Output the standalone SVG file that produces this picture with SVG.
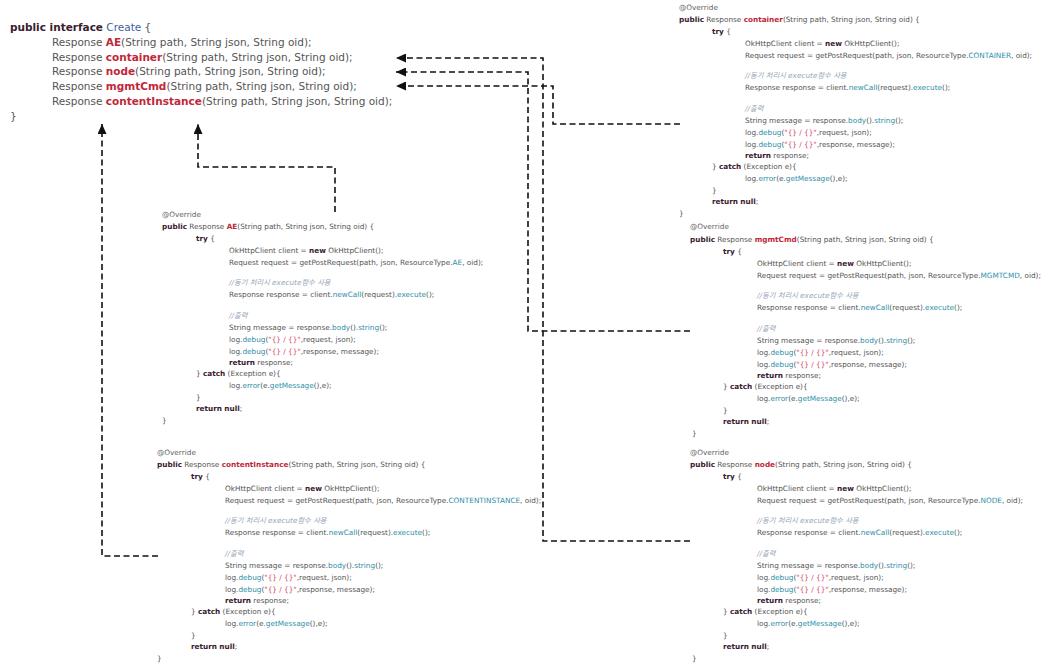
<svg xmlns="http://www.w3.org/2000/svg" width="1058" height="663" viewBox="0 0 1058 663">
<style>
.c { font-family: "DejaVu Sans", "Noto Sans CJK KR", sans-serif; font-size: 7.3px; fill: #555; }
.i { font-size: 10.5px; fill: #555; }
.k { font-weight: bold; fill: #3a2030; }
.m { font-weight: bold; fill: #c0283a; }
.f { fill: #2f8fa8; }
.s { fill: #d24a6a; }
.cm { font-style: italic; fill: #97a6b6; }
.an { fill: #666; }
.ty { fill: #3d5fa0; }
.conn path { fill: none; stroke: #111; stroke-width: 1.6; stroke-dasharray: 6 3.5; }
</style>
<defs>
<marker id="arr" markerUnits="userSpaceOnUse" markerWidth="10" markerHeight="9" viewBox="0 0 10 9" refX="10" refY="4.5" orient="auto">
<path d="M0,0 L10,4.5 L0,9 Z" fill="#111"/>
</marker>
</defs>
<rect width="1058" height="663" fill="#fff"/>

<g id="interface-create">
<text class="c i" x="10" y="31"><tspan class="k">public interface</tspan> <tspan class="ty">Create</tspan> {</text>
<text class="c i" x="52" y="46">Response <tspan class="m">AE</tspan>(String path, String json, String oid);</text>
<text class="c i" x="52" y="61">Response <tspan class="m">container</tspan>(String path, String json, String oid);</text>
<text class="c i" x="52" y="75">Response <tspan class="m">node</tspan>(String path, String json, String oid);</text>
<text class="c i" x="52" y="90">Response <tspan class="m">mgmtCmd</tspan>(String path, String json, String oid);</text>
<text class="c i" x="52" y="105">Response <tspan class="m">contentInstance</tspan>(String path, String json, String oid);</text>
<text class="c i" x="10" y="120">}</text>
</g>

<g id="impl-AE" transform="translate(162,216.5)">
<text class="c an" x="0" y="0">@Override</text>
<text class="c" x="0" y="12"><tspan class="k">public</tspan> Response <tspan class="m">AE</tspan>(String path, String json, String oid) {</text>
<text class="c" x="34" y="24"><tspan class="k">try</tspan> {</text>
<text class="c" x="67" y="36">OkHttpClient client = <tspan class="k">new</tspan> OkHttpClient();</text>
<text class="c" x="67" y="48">Request request = getPostRequest(path, json, ResourceType.<tspan class="f">AE</tspan>, oid);</text>
<text class="c cm" x="67" y="68">//동기 처리시 execute함수 사용</text>
<text class="c" x="67" y="80">Response response = client.<tspan class="f">newCall</tspan>(request).<tspan class="f">execute</tspan>();</text>
<text class="c cm" x="67" y="101">//출력</text>
<text class="c" x="67" y="113">String message = response.<tspan class="f">body</tspan>().<tspan class="f">string</tspan>();</text>
<text class="c" x="67" y="125">log.<tspan class="f">debug</tspan>(<tspan class="s">"{} / {}"</tspan>,request, json);</text>
<text class="c" x="67" y="137">log.<tspan class="f">debug</tspan>(<tspan class="s">"{} / {}"</tspan>,response, message);</text>
<text class="c" x="67" y="148"><tspan class="k">return</tspan> response;</text>
<text class="c" x="34" y="159">} <tspan class="k">catch</tspan> (Exception e){</text>
<text class="c" x="67" y="171">log.<tspan class="f">error</tspan>(e.<tspan class="f">getMessage</tspan>(),e);</text>
<text class="c" x="34" y="183">}</text>
<text class="c" x="34" y="194"><tspan class="k">return</tspan> <tspan class="k">null</tspan>;</text>
<text class="c" x="0" y="206">}</text>
</g>

<g id="impl-contentInstance" transform="translate(157,454.5)">
<text class="c an" x="0" y="0">@Override</text>
<text class="c" x="0" y="12"><tspan class="k">public</tspan> Response <tspan class="m">contentInstance</tspan>(String path, String json, String oid) {</text>
<text class="c" x="34" y="24"><tspan class="k">try</tspan> {</text>
<text class="c" x="68" y="36">OkHttpClient client = <tspan class="k">new</tspan> OkHttpClient();</text>
<text class="c" x="68" y="48">Request request = getPostRequest(path, json, ResourceType.<tspan class="f">CONTENTINSTANCE</tspan>, oid);</text>
<text class="c cm" x="68" y="68">//동기 처리시 execute함수 사용</text>
<text class="c" x="68" y="80">Response response = client.<tspan class="f">newCall</tspan>(request).<tspan class="f">execute</tspan>();</text>
<text class="c cm" x="68" y="101">//출력</text>
<text class="c" x="68" y="113">String message = response.<tspan class="f">body</tspan>().<tspan class="f">string</tspan>();</text>
<text class="c" x="68" y="125">log.<tspan class="f">debug</tspan>(<tspan class="s">"{} / {}"</tspan>,request, json);</text>
<text class="c" x="68" y="137">log.<tspan class="f">debug</tspan>(<tspan class="s">"{} / {}"</tspan>,response, message);</text>
<text class="c" x="68" y="148"><tspan class="k">return</tspan> response;</text>
<text class="c" x="34" y="159">} <tspan class="k">catch</tspan> (Exception e){</text>
<text class="c" x="68" y="171">log.<tspan class="f">error</tspan>(e.<tspan class="f">getMessage</tspan>(),e);</text>
<text class="c" x="34" y="183">}</text>
<text class="c" x="34" y="194"><tspan class="k">return</tspan> <tspan class="k">null</tspan>;</text>
<text class="c" x="0" y="206">}</text>
</g>

<g id="impl-container" transform="translate(679,9.5)">
<text class="c an" x="0" y="0">@Override</text>
<text class="c" x="0" y="12"><tspan class="k">public</tspan> Response <tspan class="m">container</tspan>(String path, String json, String oid) {</text>
<text class="c" x="33" y="24"><tspan class="k">try</tspan> {</text>
<text class="c" x="66" y="36">OkHttpClient client = <tspan class="k">new</tspan> OkHttpClient();</text>
<text class="c" x="66" y="48">Request request = getPostRequest(path, json, ResourceType.<tspan class="f">CONTAINER</tspan>, oid);</text>
<text class="c cm" x="66" y="68">//동기 처리시 execute함수 사용</text>
<text class="c" x="66" y="80">Response response = client.<tspan class="f">newCall</tspan>(request).<tspan class="f">execute</tspan>();</text>
<text class="c cm" x="66" y="101">//출력</text>
<text class="c" x="66" y="113">String message = response.<tspan class="f">body</tspan>().<tspan class="f">string</tspan>();</text>
<text class="c" x="66" y="125">log.<tspan class="f">debug</tspan>(<tspan class="s">"{} / {}"</tspan>,request, json);</text>
<text class="c" x="66" y="137">log.<tspan class="f">debug</tspan>(<tspan class="s">"{} / {}"</tspan>,response, message);</text>
<text class="c" x="66" y="148"><tspan class="k">return</tspan> response;</text>
<text class="c" x="33" y="159">} <tspan class="k">catch</tspan> (Exception e){</text>
<text class="c" x="66" y="171">log.<tspan class="f">error</tspan>(e.<tspan class="f">getMessage</tspan>(),e);</text>
<text class="c" x="33" y="183">}</text>
<text class="c" x="33" y="194"><tspan class="k">return</tspan> <tspan class="k">null</tspan>;</text>
<text class="c" x="0" y="206">}</text>
</g>

<g id="impl-mgmtCmd" transform="translate(690,228.5)">
<text class="c an" x="0" y="0">@Override</text>
<text class="c" x="0" y="13"><tspan class="k">public</tspan> Response <tspan class="m">mgmtCmd</tspan>(String path, String json, String oid) {</text>
<text class="c" x="33" y="25"><tspan class="k">try</tspan> {</text>
<text class="c" x="67" y="37">OkHttpClient client = <tspan class="k">new</tspan> OkHttpClient();</text>
<text class="c" x="67" y="49">Request request = getPostRequest(path, json, ResourceType.<tspan class="f">MGMTCMD</tspan>, oid);</text>
<text class="c cm" x="67" y="69">//동기 처리시 execute함수 사용</text>
<text class="c" x="67" y="81">Response response = client.<tspan class="f">newCall</tspan>(request).<tspan class="f">execute</tspan>();</text>
<text class="c cm" x="67" y="102">//출력</text>
<text class="c" x="67" y="114">String message = response.<tspan class="f">body</tspan>().<tspan class="f">string</tspan>();</text>
<text class="c" x="67" y="126">log.<tspan class="f">debug</tspan>(<tspan class="s">"{} / {}"</tspan>,request, json);</text>
<text class="c" x="67" y="138">log.<tspan class="f">debug</tspan>(<tspan class="s">"{} / {}"</tspan>,response, message);</text>
<text class="c" x="67" y="149"><tspan class="k">return</tspan> response;</text>
<text class="c" x="33" y="160">} <tspan class="k">catch</tspan> (Exception e){</text>
<text class="c" x="67" y="172">log.<tspan class="f">error</tspan>(e.<tspan class="f">getMessage</tspan>(),e);</text>
<text class="c" x="33" y="184">}</text>
<text class="c" x="33" y="195"><tspan class="k">return</tspan> <tspan class="k">null</tspan>;</text>
<text class="c" x="2" y="207">}</text>
</g>

<g id="impl-node" transform="translate(690,454.5)">
<text class="c an" x="0" y="0">@Override</text>
<text class="c" x="0" y="12"><tspan class="k">public</tspan> Response <tspan class="m">node</tspan>(String path, String json, String oid) {</text>
<text class="c" x="33" y="24"><tspan class="k">try</tspan> {</text>
<text class="c" x="67" y="36">OkHttpClient client = <tspan class="k">new</tspan> OkHttpClient();</text>
<text class="c" x="67" y="48">Request request = getPostRequest(path, json, ResourceType.<tspan class="f">NODE</tspan>, oid);</text>
<text class="c cm" x="67" y="68">//동기 처리시 execute함수 사용</text>
<text class="c" x="67" y="80">Response response = client.<tspan class="f">newCall</tspan>(request).<tspan class="f">execute</tspan>();</text>
<text class="c cm" x="67" y="101">//출력</text>
<text class="c" x="67" y="113">String message = response.<tspan class="f">body</tspan>().<tspan class="f">string</tspan>();</text>
<text class="c" x="67" y="125">log.<tspan class="f">debug</tspan>(<tspan class="s">"{} / {}"</tspan>,request, json);</text>
<text class="c" x="67" y="137">log.<tspan class="f">debug</tspan>(<tspan class="s">"{} / {}"</tspan>,response, message);</text>
<text class="c" x="67" y="148"><tspan class="k">return</tspan> response;</text>
<text class="c" x="33" y="159">} <tspan class="k">catch</tspan> (Exception e){</text>
<text class="c" x="67" y="171">log.<tspan class="f">error</tspan>(e.<tspan class="f">getMessage</tspan>(),e);</text>
<text class="c" x="33" y="183">}</text>
<text class="c" x="33" y="194"><tspan class="k">return</tspan> <tspan class="k">null</tspan>;</text>
<text class="c" x="2" y="206">}</text>
</g>

<g id="connectors" class="conn">
<path d="M690,541 H543 V58 H396" marker-end="url(#arr)"/>
<path d="M690,331 H528 V72 H396" marker-end="url(#arr)"/>
<path d="M680,124 H553 V86 H396" marker-end="url(#arr)"/>
<path d="M335,212 V167 H198 V124" marker-end="url(#arr)"/>
<path d="M158,556 H102 V124" marker-end="url(#arr)"/>
</g>
</svg>
